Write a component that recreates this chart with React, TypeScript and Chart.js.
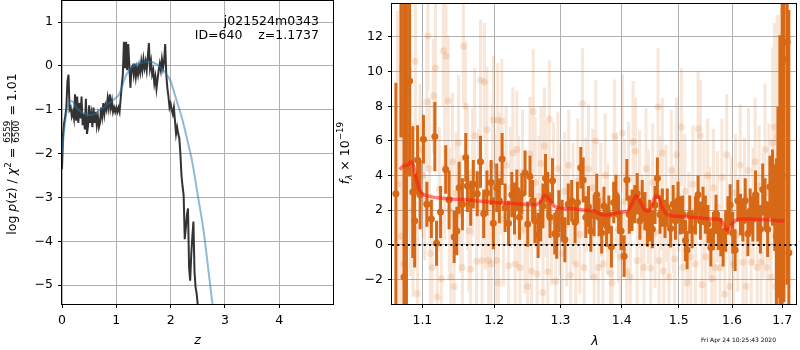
import { useEffect, useRef } from "react";
import { Chart, registerables } from "chart.js";
Chart.register(...registerables);

const FONT = "'DejaVu Sans', sans-serif";

// ---------- left panel data ----------
const zGrid = [
  0.0, 0.02, 0.04, 0.06, 0.08, 0.1, 0.12, 0.14, 0.16, 0.18,
  0.2, 0.22, 0.24, 0.26, 0.28, 0.3, 0.32, 0.34, 0.36, 0.38,
  0.4, 0.42, 0.44, 0.46, 0.48, 0.5, 0.52, 0.54, 0.56, 0.58,
  0.6, 0.62, 0.64, 0.66, 0.68, 0.7, 0.72, 0.74, 0.76, 0.78,
  0.8, 0.82, 0.84, 0.86, 0.88, 0.9, 0.92, 0.94, 0.96, 0.98,
  1.0, 1.02, 1.04, 1.06, 1.08, 1.1, 1.12, 1.14, 1.16, 1.18,
  1.2, 1.22, 1.24, 1.26, 1.28, 1.3, 1.32, 1.34, 1.36, 1.38,
  1.4, 1.42, 1.44, 1.46, 1.48, 1.5, 1.52, 1.54, 1.56, 1.58,
  1.6, 1.62, 1.64, 1.66, 1.68, 1.7, 1.72, 1.74, 1.76, 1.78,
  1.8, 1.82, 1.84, 1.86, 1.88, 1.9, 1.92, 1.94, 1.96, 1.98,
  2.0, 2.02, 2.04, 2.06, 2.08, 2.1, 2.12, 2.14, 2.16, 2.18,
  2.2, 2.22, 2.24, 2.26, 2.28, 2.3, 2.32, 2.34, 2.36, 2.38,
  2.4, 2.42, 2.44, 2.46, 2.48, 2.5, 2.52,
];
const logPz = [
  -2.35, -1.55, -1.3, -1.15, -0.95, -0.35, -0.2, -1.0, -0.95, -1.15,
  -1.05, -1.2, -0.65, -1.25, -0.7, -1.3, -0.85, -1.2, -0.7, -1.35,
  -1.1, -1.45, -0.75, -1.55, -1.35, -0.9, -1.3, -1.1, -1.4, -0.95,
  -1.3, -1.05, -1.35, -1.15, -1.4, -1.3, -0.95, -1.15, -0.85, -1.1,
  -0.9, -1.0, -0.75, -0.95, -0.65, -0.95, -0.8, -1.05, -0.95, -1.05,
  -0.95, -1.05, -0.95, -1.05, -0.75, -0.45, -0.2, 0.55, -0.05, 0.55,
  -0.1, 0.5, 0.0, -0.5, -0.05, 0.0, -0.2, 0.05, -0.25, -0.05,
  -0.2, 0.0, -0.15, 0.1, -0.1, 0.15, -0.05, 0.1, -0.1, 0.2,
  0.52, -0.05, 0.1, -0.2, -0.1, -0.4, -0.25, -0.52, -0.3, -0.1,
  0.05, -0.1, 0.15, -0.05, 0.1, 0.5, -0.2, -0.5, -0.7, -0.95,
  -0.86, -1.0, -1.1, -0.95, -1.25, -1.55, -1.4, -1.55, -1.65, -2.0,
  -2.5, -2.75, -2.95, -3.95, -3.7, -3.4, -3.25, -4.6, -4.9, -4.3,
  -3.9, -3.55, -4.7, -5.05, -5.2, -5.45, -5.7,
];
const zSmooth = [0, 0.05, 0.1, 0.15, 0.2, 0.25, 0.3, 0.4, 0.5, 0.6, 0.7, 0.8, 0.9, 1.0, 1.05, 1.1, 1.15, 1.2, 1.3, 1.4, 1.5, 1.6, 1.7, 1.8, 1.9, 2.0, 2.1, 2.2, 2.3, 2.4, 2.5, 2.6, 2.7, 2.8];
const logPzSmooth = [-2.0, -1.35, -0.95, -0.8, -0.82, -0.92, -1.0, -1.08, -1.12, -1.1, -1.0, -0.92, -0.82, -0.72, -0.65, -0.5, -0.3, -0.17, -0.02, 0.05, 0.08, 0.1, 0.07, -0.02, -0.15, -0.35, -0.75, -1.15, -1.65, -2.2, -2.95, -3.7, -4.7, -5.75];
const zTicks = [0, 1, 2, 3, 4];
const pzTicks = [-5, -4, -3, -2, -1, 0, 1];

// ---------- right panel data ----------
const darkLam = [
  1.0653, 1.0718, 1.0758, 1.079, 1.0831, 1.0873, 1.0898, 1.0936, 1.097, 1.1014,
  1.106, 1.112, 1.1167, 1.119, 1.1245, 1.1315, 1.1361, 1.1431, 1.1468, 1.15,
  1.1546, 1.1593, 1.1616, 1.1662, 1.1699, 1.1755, 1.1801, 1.1847, 1.1894, 1.1954,
  1.1986, 1.2035, 1.2074, 1.2114, 1.2158, 1.2208, 1.2257, 1.2297, 1.2332, 1.2371,
  1.2406, 1.2455, 1.2495, 1.253, 1.2569, 1.2604, 1.2653, 1.2693, 1.2728, 1.2767,
  1.2802, 1.2837, 1.2876, 1.2911, 1.2941, 1.2975, 1.3027, 1.307, 1.3124, 1.3178,
  1.3232, 1.327, 1.3324, 1.3362, 1.3405, 1.3449, 1.3486, 1.3541, 1.3584, 1.3622,
  1.3665, 1.3703, 1.3746, 1.3784, 1.3827, 1.3865, 1.3903, 1.3946, 1.3989, 1.4041,
  1.4088, 1.4129, 1.4176, 1.4224, 1.4265, 1.4312, 1.4353, 1.44, 1.4441, 1.4482,
  1.4529, 1.4576, 1.4618, 1.4665, 1.4706, 1.4753, 1.4794, 1.4853, 1.49, 1.4941,
  1.4988, 1.5031, 1.5074, 1.5123, 1.5153, 1.5202, 1.5245, 1.5307, 1.5356, 1.5399,
  1.5448, 1.5491, 1.554, 1.5595, 1.5644, 1.5693, 1.5736, 1.5785, 1.5828, 1.5877,
  1.592, 1.5963, 1.6013, 1.6059, 1.6112, 1.6164, 1.6211, 1.6257, 1.6309, 1.6355,
  1.6408, 1.6461, 1.6507, 1.6559, 1.6605, 1.6651, 1.6704, 1.675, 1.6803, 1.6849,
  1.6882, 1.6914, 1.6954, 1.7, 1.7034, 1.7103, 1.7138,
];
const darkFlux = [
  2.95, 16.0, -1.85, 4.5, 9.45, 3.05, 1.4, 4.9, 2.9, 6.1,
  2.35, 1.5, 6.25, 0.1, 1.9, 4.35, 2.6, 0.45, 0.8, 3.3,
  2.35, 5.05, 3.4, 2.4, 3.5, 2.95, 4.8, 1.8, 3.0, 3.6,
  1.25, 3.3, 2.55, 4.95, 2.15, 1.25, 2.9, 2.1, 3.15, 1.6,
  2.95, 4.15, 1.2, 3.95, 2.55, 1.4, 0.55, 1.4, 2.25, 3.85,
  2.9, 1.6, 3.7, 0.65, 0.6, 1.95, 1.4, 0.3, 2.35, 2.55,
  1.3, 2.45, 4.45, 3.75, 1.6, 2.2, 0.8, 1.7, 2.9, 1.6,
  0.7, 2.25, 1.1, 1.75, -0.1, 2.45, 2.85, 1.75, 0.8, -0.65,
  3.75, 1.75, 2.0, 2.35, 2.95, 1.4, 2.55, 1.95, 1.0, 1.4,
  0.9, 2.3, 3.85, 1.75, 2.15, 1.5, 2.15, 0.95, 2.35, 1.4,
  2.55, 1.7, 1.75, 0.25, -0.3, 1.75, 0.9, 1.7, 2.9, 1.4,
  2.25, 1.75, 1.2, -0.15, 0.8, 1.8, 0.8, 0.45, -0.15, 0.8,
  1.7, 2.3, 0.7, -0.3, 2.55, 1.75, 1.4, 2.55, 0.65, 1.95,
  1.5, 2.9, 1.6, 0.9, 3.2, 2.35, 0.9, 3.35, 3.3, 2.15,
  0.5, 2.45, -1.9, 4.0, 10.7, 11.7, -0.45,
];
const darkErr = [
  6.4, 9.8, 16, 10, 5.5, 3.8, 2.7, 2.0, 2.0, 1.4,
  1.3, 1.1, 2.0, 1.3, 1.5, 1.4, 1.7, 1.5, 1.4, 1.5,
  1.5, 1.4, 1.5, 1.3, 1.4, 1.3, 1.5, 1.4, 1.3, 1.3,
  1.5, 1.4, 1.3, 1.5, 1.4, 1.3, 1.3, 1.5, 1.2, 1.3,
  1.2, 1.3, 1.3, 1.2, 1.2, 1.3, 1.3, 1.2, 1.3, 1.4,
  1.3, 1.2, 1.3, 1.2, 1.4, 1.2, 1.2, 1.3, 1.2, 1.2,
  1.2, 1.2, 1.2, 1.3, 1.2, 1.2, 1.2, 1.2, 1.2, 1.1,
  1.2, 1.1, 1.2, 1.1, 1.2, 1.2, 1.2, 1.1, 1.1, 1.2,
  1.2, 1.1, 1.2, 1.1, 1.2, 1.1, 1.2, 1.1, 1.1, 1.2,
  1.1, 1.1, 1.2, 1.1, 1.1, 1.1, 1.1, 1.1, 1.1, 1.1,
  1.1, 1.1, 1.1, 1.2, 1.1, 1.1, 1.1, 1.1, 1.1, 1.1,
  1.1, 1.1, 1.1, 1.1, 1.1, 1.1, 1.1, 1.1, 1.1, 1.2,
  1.1, 1.2, 1.2, 1.2, 1.2, 1.2, 1.2, 1.3, 1.3, 1.3,
  1.3, 1.4, 1.4, 1.4, 1.5, 1.5, 1.6, 1.8, 2.2, 2.5,
  4.5, 5.5, 14, 16, 14, 14, 14,
];
const faintLam = [
  1.0674, 1.0716, 1.0758, 1.0801, 1.0843, 1.0877, 1.0907, 1.0936, 1.097, 1.1005,
  1.1032, 1.106, 1.1074, 1.1093, 1.1106, 1.113, 1.1148, 1.1176, 1.1199, 1.1227,
  1.1255, 1.1282, 1.1301, 1.1319, 1.1347, 1.1366, 1.1384, 1.1407, 1.1431, 1.1458,
  1.1491, 1.1519, 1.1546, 1.156, 1.1588, 1.1616, 1.1639, 1.1662, 1.169, 1.1718,
  1.1745, 1.1773, 1.1801, 1.1824, 1.1856, 1.1875, 1.1894, 1.1917, 1.1954, 1.1972,
  1.1986, 1.2015, 1.2035, 1.205, 1.2059, 1.2084, 1.2109, 1.2134, 1.2173, 1.2208,
  1.2238, 1.2272, 1.2307, 1.2332, 1.2356, 1.2381, 1.2416, 1.245, 1.2495, 1.253,
  1.2554, 1.2579, 1.2609, 1.2639, 1.2668, 1.2698, 1.2728, 1.2748, 1.2777, 1.2802,
  1.2827, 1.2861, 1.2891, 1.2926, 1.296, 1.299, 1.3027, 1.3065, 1.3097, 1.313,
  1.3162, 1.32, 1.3243, 1.3276, 1.3308, 1.3351, 1.3378, 1.3411, 1.3449, 1.3486,
  1.3519, 1.3541, 1.3568, 1.3611, 1.3649, 1.3686, 1.3724, 1.3762, 1.3811, 1.3838,
  1.3876, 1.3908, 1.3946, 1.3978, 1.4012, 1.4047, 1.4088, 1.4118, 1.4147, 1.4194,
  1.4235, 1.4265, 1.4306, 1.4341, 1.4382, 1.4418, 1.4459, 1.45, 1.4535, 1.4576,
  1.4629, 1.4647, 1.4682, 1.4706, 1.4729, 1.4771, 1.4824, 1.4865, 1.49, 1.4929,
  1.4959, 1.5, 1.5049, 1.5074, 1.511, 1.5153, 1.5184, 1.5221, 1.5258, 1.5307,
  1.5356, 1.5399, 1.5429, 1.5466, 1.5497, 1.5534, 1.5571, 1.5613, 1.5644, 1.5675,
  1.5718, 1.5767, 1.5804, 1.5859, 1.5896, 1.5951, 1.5982, 1.6026, 1.6066, 1.6112,
  1.6158, 1.6211, 1.6243, 1.6276, 1.6322, 1.6375, 1.6414, 1.6454, 1.6493, 1.6533,
  1.6572, 1.6612, 1.6651, 1.6691, 1.673, 1.677, 1.6809, 1.6842, 1.6868, 1.6901,
  1.6941, 1.698, 1.7021, 1.7062,
];
const faintFlux = [
  3.5, 0.5, -1.1, 8.8, 4.2, 2.0, 10.6, -2.8, 5.5, 4.0,
  2.5, 8.25, 12.05, 4.4, -0.5, -1.3, 8.6, 10.2, -3.0, 3.2,
  -1.95, 11.2, 4.5, 10.9, 8.3, 2.0, -1.85, 4.8, -2.4, 3.0,
  5.9, 1.8, -1.3, 11.45, 8.0, 3.8, 0.8, -1.4, 4.2, 6.3,
  -0.95, 3.4, 9.5, -0.9, 9.4, 2.6, 6.65, -0.9, -1.1, 4.6,
  7.2, 3.0, -0.9, 7.2, -2.2, 4.1, 7.15, 1.5, 4.6, -1.2,
  3.3, 5.3, -1.1, 5.5, 2.4, -1.3, 4.2, 0.9, -2.4, 5.25,
  -1.5, 7.7, 3.6, -1.7, 2.8, 4.7, -2.75, 5.7, 3.2, -1.55,
  7.25, 1.4, 3.9, -2.1, 4.4, 2.0, -0.5, 3.1, 1.2, 4.6,
  -1.75, 2.4, -1.1, 3.7, 0.6, 8.15, -1.3, 2.9, 4.4, 1.0,
  3.3, -1.85, 6.0, -1.3, 2.6, -1.1, 4.0, 1.5, -1.65, -2.2,
  6.25, 3.0, 0.9, -0.7, 6.45, 2.5, -1.55, 3.8, -1.85, 5.95,
  5.4, -0.9, 3.2, 1.1, -1.3, 4.4, 2.2, -1.35, 3.6, 0.7,
  7.95, -0.9, 3.0, 5.3, -1.5, 2.4, -1.85, 4.3, 1.5, -0.8,
  5.2, 2.8, 6.8, -1.3, 3.1, -2.2, 1.0, -0.7, 3.5, -1.1,
  6.7, 6.3, -2.3, 2.6, -0.7, 4.0, 1.3, -1.95, 3.3, -1.3,
  2.2, -1.3, 3.9, -2.85, 5.2, -2.4, 1.8, -1.1, 3.0, 0.6,
  4.6, -1.0, 2.8, -2.4, 4.3, -1.0, 2.2, 4.8, -1.3, 3.4,
  -1.0, 1.7, 5.5, -1.3, 3.0, -1.85, 5.9, 6.8, -2.4, 6.25,
  5.3, -2.0, 13.5, 2.0,
];
const faintErr = [
  10, 10, 9, 8, 6, 5, 4, 4.2, 3.8, 3.6,
  3.4, 3.8, 3.2, 4.1, 3.5, 3.9, 3.3, 3.7, 4.0, 3.6,
  3.5, 3.2, 4.2, 3.4, 3.8, 3.6, 3.3, 4.0, 3.7, 3.5,
  3.9, 3.4, 3.6, 3.3, 3.8, 4.1, 3.5, 3.2, 3.7, 3.9,
  3.6, 3.3, 3.5, 3.8, 3.4, 4.0, 3.6, 3.2, 3.9, 3.5,
  3.7, 3.4, 3.6, 3.3, 3.8, 3.5, 3.6, 3.9, 3.4, 3.2,
  3.5, 3.8, 3.3, 3.4, 3.9, 3.2, 3.6, 3.7, 3.4, 3.3,
  3.5, 3.6, 3.8, 3.2, 3.5, 3.3, 3.6, 3.4, 3.9, 3.1,
  3.4, 3.7, 3.2, 3.5, 3.3, 3.8, 3.0, 3.4, 3.6, 3.2,
  3.3, 3.5, 3.1, 3.6, 3.4, 3.2, 3.5, 3.3, 3.7, 3.0,
  3.4, 3.2, 3.5, 3.1, 3.3, 3.0, 3.6, 3.2, 3.4, 3.3,
  3.3, 3.5, 3.1, 3.2, 3.4, 3.6, 3.0, 3.3, 3.2, 3.5,
  3.1, 3.3, 3.4, 3.0, 3.2, 3.5, 3.3, 3.1, 3.4, 3.2,
  3.4, 3.1, 3.3, 3.2, 3.0, 3.4, 3.2, 3.5, 3.1, 3.0,
  3.3, 3.2, 3.4, 3.0, 3.3, 3.1, 3.2, 3.0, 3.4, 3.1,
  3.3, 3.2, 3.1, 3.4, 3.0, 3.3, 3.2, 3.1, 3.4, 3.2,
  3.2, 3.1, 3.4, 3.3, 3.5, 3.1, 3.3, 3.2, 3.4, 3.3,
  3.5, 3.2, 3.4, 3.3, 3.6, 3.2, 3.4, 3.7, 3.3, 3.5,
  3.4, 3.6, 3.8, 3.5, 4.0, 5.0, 5.5, 6.0, 6.5, 7.0,
  8, 10, 12, 12,
];
const modelLam = [1.07, 1.075, 1.08, 1.085, 1.088, 1.092, 1.096, 1.1, 1.11, 1.12, 1.14, 1.16, 1.18, 1.2, 1.22, 1.24, 1.26, 1.268, 1.275, 1.28, 1.285, 1.29, 1.3, 1.32, 1.34, 1.355, 1.362, 1.37, 1.38, 1.39, 1.4, 1.41, 1.418, 1.425, 1.432, 1.44, 1.446, 1.452, 1.458, 1.463, 1.47, 1.48, 1.5, 1.52, 1.54, 1.56, 1.575, 1.582, 1.59, 1.596, 1.602, 1.61, 1.63, 1.65, 1.67, 1.69, 1.705];
const modelFlux = [4.35, 4.55, 4.6, 4.8, 4.6, 3.8, 3.2, 2.95, 2.8, 2.72, 2.65, 2.6, 2.52, 2.45, 2.4, 2.35, 2.32, 2.45, 2.85, 2.75, 2.5, 2.25, 2.12, 2.08, 2.0, 1.95, 1.82, 1.72, 1.75, 1.82, 1.9, 1.95, 2.4, 2.85, 2.45, 2.0, 1.95, 2.2, 2.8, 2.8, 2.2, 1.75, 1.65, 1.6, 1.55, 1.5, 1.48, 1.3, 0.85, 1.0, 1.3, 1.45, 1.5, 1.47, 1.45, 1.4, 1.38];
const lamTicks = [1.1, 1.2, 1.3, 1.4, 1.5, 1.6, 1.7];
const fluxTicks = [-2, 0, 2, 4, 6, 8, 10, 12];
const lamRange = [1.0603, 1.7287];
const fluxRange = [-3.41, 13.9];
const zRange = [0, 4.99];
const pzRange = [-5.43, 1.48];

const ORANGE = "rgb(214,104,22)";
const ORANGE_FAINT = "rgba(214,104,22,0.17)";

function pts(xs: number[], ys: number[]) {
  const out: any[] = [];
  for (let i = 0; i < xs.length && i < ys.length; i++) out.push({ x: xs[i], y: ys[i] });
  return out;
}
function errSegments(xs: number[], ys: number[], es: number[]) {
  const out: any[] = [];
  for (let i = 0; i < xs.length && i < ys.length && i < es.length; i++) {
    out.push({ x: xs[i], y: ys[i] - es[i] }, { x: xs[i], y: ys[i] + es[i] }, { x: xs[i], y: null });
  }
  return out;
}
const minus = (v: number) => (v < 0 ? "\u2212" + Math.abs(v) : String(v));

type Piece = { t?: string; font: string; dy?: number; frac?: [string, string] };
function drawPieces(ctx: CanvasRenderingContext2D, pieces: Piece[]) {
  ctx.textBaseline = "alphabetic";
  ctx.textAlign = "left";
  const widths = pieces.map((p) => {
    ctx.font = p.font;
    if (p.frac) return Math.max(ctx.measureText(p.frac[0]).width, ctx.measureText(p.frac[1]).width) + 2;
    return ctx.measureText(p.t || "").width;
  });
  const total = widths.reduce((a, b) => a + b, 0);
  let x = -total / 2;
  pieces.forEach((p, i) => {
    ctx.font = p.font;
    if (p.frac) {
      const w = widths[i];
      const bar = -4.3;
      const w0 = ctx.measureText(p.frac[0]).width;
      const w1 = ctx.measureText(p.frac[1]).width;
      ctx.fillText(p.frac[0], x + (w - w0) / 2, bar - 1.6);
      ctx.fillText(p.frac[1], x + (w - w1) / 2, bar + 7.6);
      ctx.fillRect(x + 0.5, bar - 0.4, w - 1, 0.8);
    } else {
      ctx.fillText(p.t || "", x, p.dy || 0);
    }
    x += widths[i];
  });
}

function framePlugin(id: string) {
  return {
    id,
    afterDraw(chart: any) {
      const { ctx, chartArea } = chart;
      const l = Math.round(chartArea.left), t = Math.round(chartArea.top);
      const r = Math.round(chartArea.right), b = Math.round(chartArea.bottom);
      ctx.save();
      ctx.strokeStyle = "#000";
      ctx.lineWidth = 1;
      ctx.strokeRect(l - 0.5, t - 0.5, r - l + 1, b - t + 1);
      ctx.restore();
    },
  };
}

const S = 12.5;
const N = `${S}px ${FONT}`;
const I = `italic ${S}px ${FONT}`;
const SM = `${S * 0.7}px ${FONT}`;
const SMI = `italic ${S * 0.7}px ${FONT}`;

const leftText = {
  id: "leftText",
  afterDraw(chart: any) {
    const ctx: CanvasRenderingContext2D = chart.ctx;
    ctx.save();
    ctx.fillStyle = "#000";
    ctx.font = N;
    ctx.textAlign = "right";
    ctx.textBaseline = "alphabetic";
    ctx.fillText("j021524m0343", 319, 24.5);
    ctx.fillText("ID=640    z=1.1737", 319, 39);
    ctx.font = I;
    ctx.textAlign = "center";
    ctx.fillText("z", 197.5, 344);
    ctx.translate(16, 154);
    ctx.rotate(-Math.PI / 2);
    drawPieces(ctx, [
      { t: "log ", font: N },
      { t: "p", font: I },
      { t: "(z) / ", font: N },
      { t: "\u03c7", font: I },
      { t: "2", font: SM, dy: -5 },
      { t: " = ", font: N },
      { font: SM, frac: ["6559", "6500"] },
      { t: " = 1.01", font: N },
    ]);
    ctx.restore();
  },
};

const OFF = 334;
const rightText = {
  id: "rightText",
  afterDraw(chart: any) {
    const ctx: CanvasRenderingContext2D = chart.ctx;
    ctx.save();
    ctx.fillStyle = "#000";
    ctx.font = I;
    ctx.textAlign = "center";
    ctx.textBaseline = "alphabetic";
    ctx.fillText("\u03bb", 595 - OFF, 345);
    ctx.font = `6px ${FONT}`;
    ctx.textAlign = "left";
    ctx.fillText("Fri Apr 24 10:25:43 2020", 701 - OFF, 341.5);
    ctx.translate(348.5 - OFF, 153);
    ctx.rotate(-Math.PI / 2);
    drawPieces(ctx, [
      { t: "f", font: I },
      { t: "\u03bb", font: SMI, dy: 3 },
      { t: " \u00d7 10", font: N },
      { t: "\u221219", font: SM, dy: -5.5 },
    ]);
    ctx.restore();
  },
};

function gridOpts() {
  return { color: "#b0b0b0", lineWidth: 1, tickColor: "#000", tickLength: 4, drawTicks: true };
}
function tickOpts(cb: (v: number) => string, pad: number) {
  return { color: "#000", font: { family: FONT, size: S }, padding: pad, maxRotation: 0, autoSkip: false, callback: (v: any) => cb(Number(v)) };
}
const fitX = (s: any) => { s.height = 46; s.paddingLeft = 0; s.paddingRight = 0; };
const fitY = (w: number) => (s: any) => { s.width = w; s.paddingTop = 0; s.paddingBottom = 0; };

function leftConfig(): any {
  return {
    type: "line",
    data: {
      datasets: [
        { data: pts(zSmooth, logPzSmooth), borderColor: "rgba(31,119,180,0.5)", borderWidth: 2, pointRadius: 0, cubicInterpolationMode: "monotone", order: 0, clip: 0 },
        { data: pts(zGrid, logPz), borderColor: "#333333", borderWidth: 2, pointRadius: 0, tension: 0, order: 1, clip: 0 },
      ],
    },
    options: {
      animation: false,
      responsive: false,
      devicePixelRatio: 1,
      events: [],
      layout: { padding: { left: 0, right: 1, top: 1, bottom: 0 } },
      plugins: { legend: { display: false }, tooltip: { enabled: false } },
      scales: {
        x: {
          type: "linear", min: zRange[0], max: zRange[1],
          afterBuildTicks: (s: any) => { s.ticks = zTicks.map((v) => ({ value: v })); },
          afterFit: fitX,
          grid: gridOpts(), border: { display: false }, ticks: tickOpts(minus, 5),
        },
        y: {
          type: "linear", min: pzRange[0], max: pzRange[1],
          afterBuildTicks: (s: any) => { s.ticks = pzTicks.map((v) => ({ value: v })); },
          afterFit: fitY(62),
          grid: gridOpts(), border: { display: false }, ticks: tickOpts(minus, 5),
        },
      },
    },
    plugins: [framePlugin("frameL"), leftText],
  };
}

function rightConfig(): any {
  return {
    type: "line",
    data: {
      datasets: [
        { data: [{ x: lamRange[0], y: 0 }, { x: lamRange[1], y: 0 }], borderColor: "#000", borderWidth: 2, borderDash: [2, 3.3], pointRadius: 0, order: 0, clip: 0 },
        { data: pts(modelLam, modelFlux), borderColor: "rgba(255,20,20,0.55)", borderWidth: 3.5, pointRadius: 0, cubicInterpolationMode: "monotone", order: 1, clip: 0 },
        { data: pts(darkLam, darkFlux), showLine: false, pointRadius: 3.5, pointBorderWidth: 0, pointBackgroundColor: ORANGE, order: 2, clip: 0 },
        { data: errSegments(darkLam, darkFlux, darkErr), borderColor: ORANGE, borderWidth: 3, pointRadius: 0, spanGaps: false, borderCapStyle: "butt", order: 3, clip: 0 },
        { data: pts(faintLam, faintFlux), showLine: false, pointRadius: 3.5, pointBorderWidth: 0, pointBackgroundColor: ORANGE_FAINT, order: 4, clip: 0 },
        { data: errSegments(faintLam, faintFlux, faintErr), borderColor: ORANGE_FAINT, borderWidth: 3, pointRadius: 0, spanGaps: false, borderCapStyle: "butt", order: 5, clip: 0 },
      ],
    },
    options: {
      animation: false,
      responsive: false,
      devicePixelRatio: 1,
      events: [],
      layout: { padding: { left: 0, right: 1, top: 1, bottom: 0 } },
      plugins: { legend: { display: false }, tooltip: { enabled: false } },
      scales: {
        x: {
          type: "logarithmic", min: lamRange[0], max: lamRange[1],
          afterBuildTicks: (s: any) => { s.ticks = lamTicks.map((v) => ({ value: v })); },
          afterFit: fitX,
          grid: gridOpts(), border: { display: false }, ticks: tickOpts((v) => v.toFixed(1), 5),
        },
        y: {
          type: "linear", min: fluxRange[0], max: fluxRange[1],
          afterBuildTicks: (s: any) => { s.ticks = fluxTicks.map((v) => ({ value: v })); },
          afterFit: fitY(58),
          grid: gridOpts(), border: { display: false }, ticks: tickOpts(minus, 5),
        },
      },
    },
    plugins: [framePlugin("frameR"), rightText],
  };
}

export default function App() {
  const leftRef = useRef<HTMLCanvasElement>(null);
  const rightRef = useRef<HTMLCanvasElement>(null);
  useEffect(() => {
    const c1 = new Chart(leftRef.current as HTMLCanvasElement, leftConfig());
    const c2 = new Chart(rightRef.current as HTMLCanvasElement, rightConfig());
    return () => { c1.destroy(); c2.destroy(); };
  }, []);
  return (
    <div style={{ position: "absolute", left: 0, top: 0, width: 800, height: 350, background: "#fff" }}>
      <canvas ref={leftRef} width={334} height={350} style={{ position: "absolute", left: 0, top: 0, width: 334, height: 350 }} />
      <canvas ref={rightRef} width={466} height={350} style={{ position: "absolute", left: OFF, top: 0, width: 466, height: 350 }} />
    </div>
  );
}
